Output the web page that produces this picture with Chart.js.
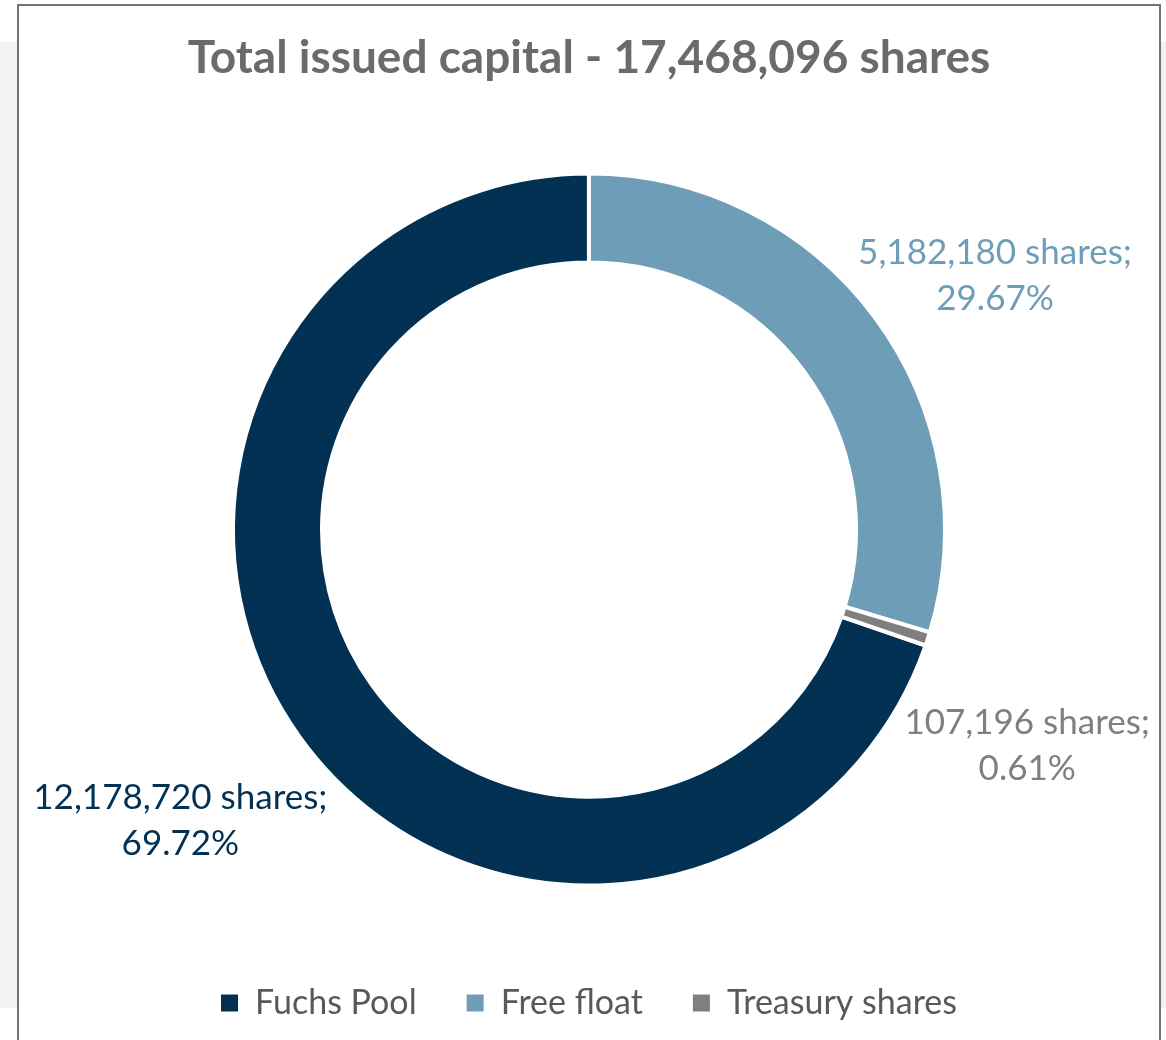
<!DOCTYPE html>
<html>
<head>
<meta charset="utf-8">
<script src="https://cdn.jsdelivr.net/npm/chart.js@4"></script>
<style>
  body { margin: 0; background: #fff; overflow: hidden; }
  .side { position: absolute; top: 42px; height: 966px; background: #f2f2f2; }
  #sideL { left: 0; width: 17px; }
  #sideR { left: 1161px; width: 5px; }
  #panel { position: absolute; left: 17px; top: 4px; width: 1140px; height: 1040px;
           border: 2px solid #737373; background: #fff; }
  #chart { display: block; }
</style>
</head>
<body>
<div class="side" id="sideL"></div>
<div class="side" id="sideR"></div>
<div id="panel">
  <canvas id="chart" width="1140" height="1034"></canvas>
</div>
<script>
// Datos del gráfico
const categorias = ['Fuchs Pool', 'Free float', 'Treasury shares'];
const acciones = [12178720, 5182180, 107196];
const porcentajes = ['69.72%', '29.67%', '0.61%'];
const colores = ['#023154', '#6e9db8', '#7f7f7f'];

const FUENTE = 'Lato, "Open Sans", sans-serif';

// Formato con comas para miles
function fmt(n) {
  return n.toLocaleString('en-US');
}

// Etiquetas de cada porción fuera del anillo
const etiquetasPlugin = {
  id: 'etiquetas',
  afterDatasetsDraw(chart, args, opts) {
    const ctx = chart.ctx;
    const meta = chart.getDatasetMeta(0);
    meta.data.forEach((arc, i) => {
      const p = arc.getProps(['x', 'y', 'startAngle', 'endAngle', 'outerRadius'], true);
      const ajuste = opts.ajustes[i];
      const ang = (p.startAngle + p.endAngle) / 2 + ajuste.giro * Math.PI / 180;
      const r = p.outerRadius * ajuste.radio;
      const x = p.x + Math.cos(ang) * r;
      const y = p.y + Math.sin(ang) * r;
      ctx.save();
      ctx.font = opts.fuente;
      ctx.fillStyle = colores[i];
      ctx.textAlign = 'center';
      ctx.textBaseline = 'middle';
      ctx.fillText(fmt(acciones[i]) + ' shares;', x, y - opts.interlinea / 2);
      ctx.fillText(porcentajes[i], x, y + opts.interlinea / 2);
      ctx.restore();
    });
  }
};

// Leyenda sin el borde blanco de las porciones
const etiquetasLeyenda = Chart.overrides.doughnut.plugins.legend.labels.generateLabels;

new Chart(document.getElementById('chart'), {
  type: 'doughnut',
  data: {
    labels: categorias,
    datasets: [{
      data: acciones,
      backgroundColor: colores,
      borderColor: '#ffffff',
      borderWidth: 4,
      hoverOffset: 0,
      radius: 356
    }]
  },
  options: {
    responsive: false,
    animation: false,
    rotation: 109,
    cutout: '75%',
    layout: { padding: { top: 0, bottom: 10, left: 0, right: 0 } },
    plugins: {
      title: {
        display: true,
        text: 'Total issued capital - ' + fmt(acciones.reduce((a, b) => a + b, 0)) + ' shares',
        color: '#6b6b6b',
        font: { family: FUENTE, size: 46, weight: 'bold' },
        padding: { top: 25, bottom: 37 }
      },
      legend: {
        position: 'bottom',
        labels: {
          color: '#595959',
          font: { family: FUENTE, size: 34 },
          boxWidth: 17,
          boxHeight: 17,
          padding: 50,
          generateLabels(chart) {
            return etiquetasLeyenda(chart).map(l => ({ ...l, lineWidth: 0, strokeStyle: 'rgba(0,0,0,0)' }));
          }
        }
      },
      tooltip: { enabled: false },
      etiquetas: {
        fuente: '35px ' + FUENTE,
        interlinea: 46,
        ajustes: [
          { giro: 0, radio: 1.41 },
          { giro: 4.6, radio: 1.345 },
          { giro: 8.4, radio: 1.373 }
        ]
      }
    }
  },
  plugins: [etiquetasPlugin]
});
</script>
</body>
</html>
